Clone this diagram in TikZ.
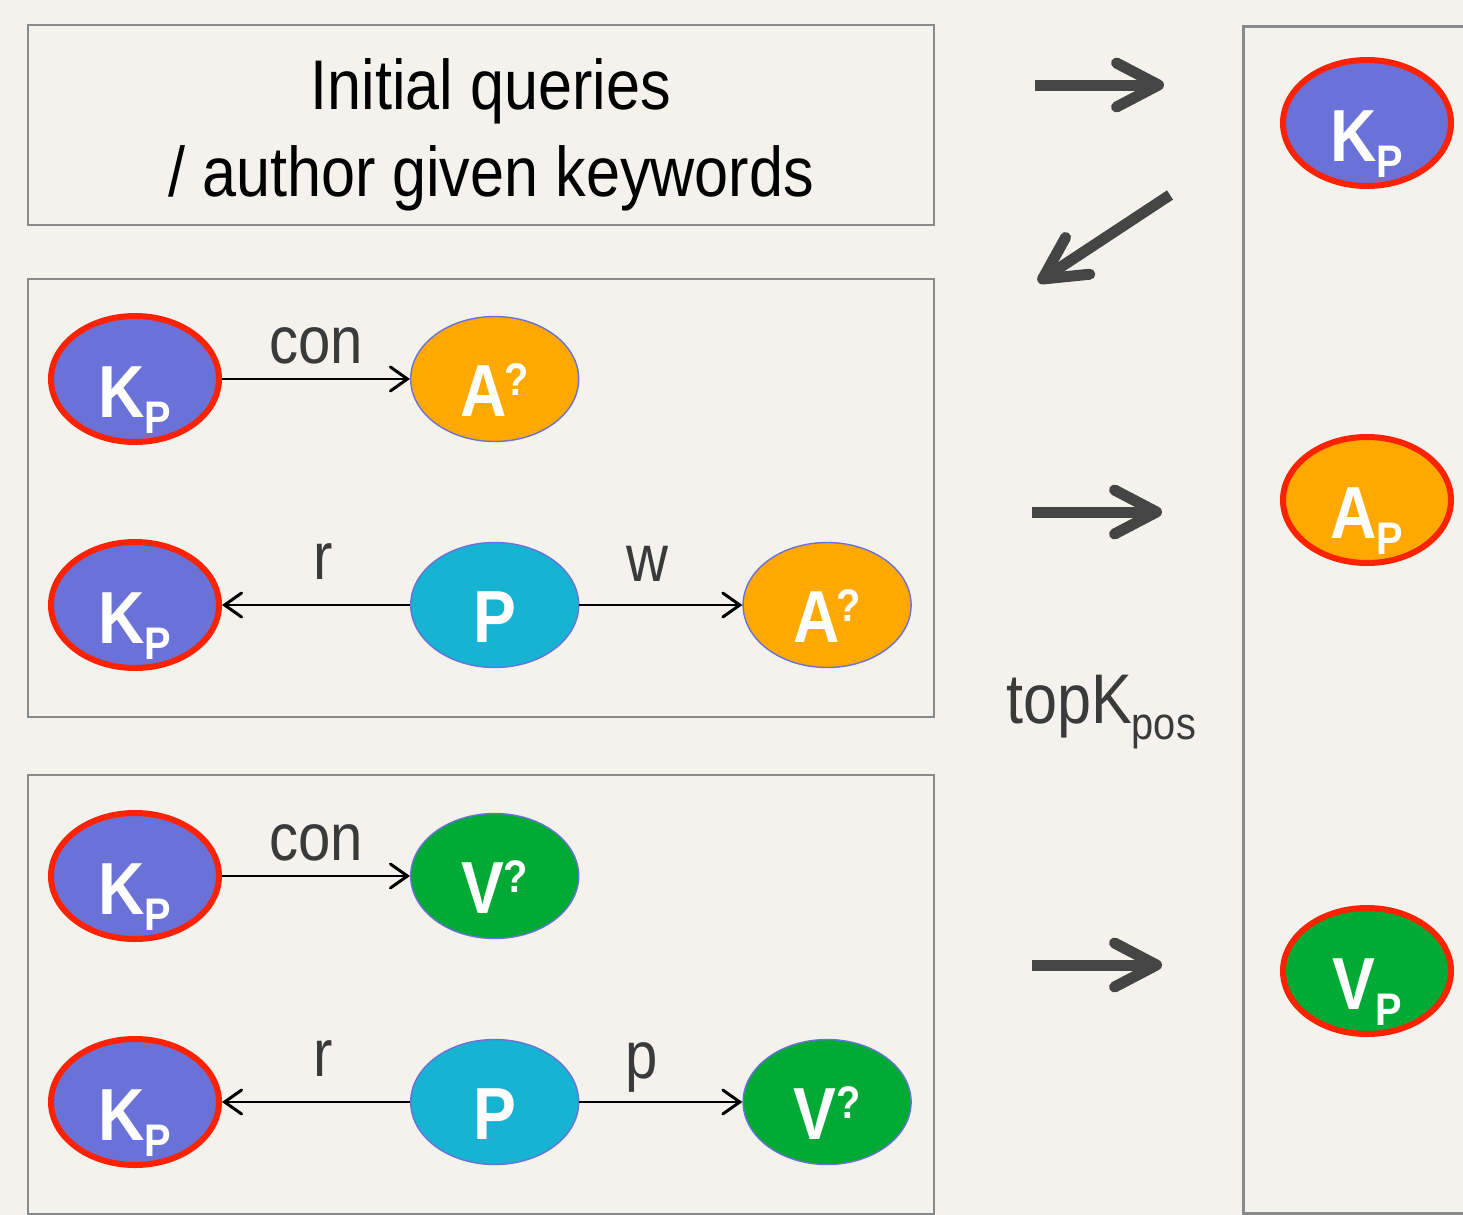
\documentclass[tikz,border=0pt]{standalone}
\usepackage{fontspec}
\setmainfont[FakeStretch=0.87]{Liberation Sans}
\usetikzlibrary{positioning}
\usetikzlibrary{shapes.geometric}
\usetikzlibrary{arrows.meta}

\definecolor{paper}{HTML}{F4F2EC}
\definecolor{frameg}{HTML}{8A8A8A}
\definecolor{kblue}{HTML}{6A72D8}
\definecolor{hitred}{HTML}{FF2200}
\definecolor{aorange}{HTML}{FFA800}
\definecolor{pteal}{HTML}{16B3D3}
\definecolor{vgreen}{HTML}{00AA35}
\definecolor{rimblue}{HTML}{6A72D8}
\definecolor{inkg}{HTML}{3A3A3A}
\definecolor{bigarr}{HTML}{454545}

\newcommand{\lowsub}[1]{\raisebox{-0.16cm}{\fontsize{13}{13}\selectfont #1}}
\newcommand{\upq}[1][0cm]{\hspace{#1}\raisebox{0.21cm}{\fontsize{13}{13}\selectfont ?}}

\begin{document}
\begin{tikzpicture}[
    hit/.style = {shape = ellipse, draw = hitred, line width = 0.06cm, minimum width = 1.68cm, minimum height = 1.26cm, inner sep = 0cm, text = white, text height = 0.76cm, text depth = 0cm, font = \fontsize{21}{21}\selectfont\bfseries},
    open/.style = {shape = ellipse, draw = rimblue, thin, minimum width = 1.68cm, minimum height = 1.25cm, inner sep = 0cm, text = white, text height = 0.74cm, text depth = 0cm, font = \fontsize{21}{21}\selectfont\bfseries},
    frame/.style = {draw = frameg, line width = 0.02cm},
    rel/.style = {text = inkg, font = \fontsize{19}{19}\selectfont, text depth = 0cm, inner sep = 0cm},
    link/.style = {-{Straight Barb[length = 0.17cm, width = 0.24cm, line width = 0.03cm, line cap = round]}, line width = 0.02cm},
    flow/.style = {-{Straight Barb[length = 0.42cm, width = 0.44cm, line cap = round, line join = round]}, draw = bigarr, line width = 0.11cm},
    ]
    % page
    \fill[paper] (0,0) rectangle (14.63,-12.15);
    \useasboundingbox (0,0) rectangle (14.63,-12.15);

    % left frames
    \draw[frame] (0.28,-0.25) rectangle (9.34,-2.25);
    \node[align = center, font = \fontsize{20}{24.7}\selectfont] (query) at (4.91,-1.35) {Initial queries\\/ author given keywords};
    \draw[frame] (0.28,-2.79) rectangle (9.34,-7.17);
    \draw[frame] (0.28,-7.75) rectangle (9.34,-12.14);
    \draw[frame, line width = 0.03cm] (15.2,-0.26) -| (12.43,-12.13) -- (15.2,-12.13);

    % author patterns
    \node[hit, fill = kblue] (k1) at (1.35,-3.79) {K\lowsub{P}};
    \node[open, fill = aorange] (a1) [right = 1.88cm of k1] {A\upq[-0.03cm]};
    \node[hit, fill = kblue] (k2) at (1.35,-6.05) {K\lowsub{P}};
    \node[open, fill = pteal] (p1) [right = 1.88cm of k2] {P};
    \node[open, fill = aorange] (a2) [right = 1.63cm of p1] {A\upq[-0.03cm]};

    \path[link] (k1) edge node[rel, above = 0.15cm] {con} (a1);
    \path[link] (p1) edge node[rel, pos = 0.46, above = 0.25cm] {r} (k2);
    \path[link] (p1) edge node[rel, pos = 0.42, above = 0.23cm] {w} (a2);

    % venue patterns
    \node[hit, fill = kblue] (k3) at (1.35,-8.76) {K\lowsub{P}};
    \node[open, fill = vgreen] (v1) [right = 1.88cm of k3] {V\upq};
    \node[hit, fill = kblue] (k4) at (1.35,-11.02) {K\lowsub{P}};
    \node[open, fill = pteal] (p2) [right = 1.88cm of k4] {P};
    \node[open, fill = vgreen] (v2) [right = 1.63cm of p2] {V\upq};

    \path[link] (k3) edge node[rel, above = 0.15cm] {con} (v1);
    \path[link] (p2) edge node[rel, pos = 0.46, above = 0.25cm] {r} (k4);
    \path[link] (p2) edge node[rel, pos = 0.38, above = 0.23cm] {p} (v2);

    % positives
    \node[hit, fill = kblue] (kpos) at (13.67,-1.23) {K\lowsub{P}};
    \node[hit, fill = aorange] (apos) at (13.67,-5.00) {A\lowsub{P}};
    \node[hit, fill = vgreen] (vpos) at (13.67,-9.71) {V\lowsub{P}};

    % flow arrows
    \coordinate (f1a) at (10.35,-0.85);
    \coordinate (f1b) at (11.64,-0.85);
    \coordinate (f2a) at (11.70,-1.95);
    \coordinate (f2b) at (10.38,-2.82);
    \coordinate (f3a) at (10.32,-5.12);
    \coordinate (f3b) at (11.62,-5.12);
    \coordinate (f4a) at (10.32,-9.65);
    \coordinate (f4b) at (11.62,-9.65);
    \draw[flow] (f1a) -- (f1b);
    \draw[flow] (f2a) -- (f2b);
    \draw[flow] (f3a) -- (f3b);
    \draw[flow] (f4a) -- (f4b);

    \node[text = inkg, font = \fontsize{20}{20}\selectfont] (topk) at (11.01,-7.12) {topK\lowsub{pos}};
\end{tikzpicture}
\end{document}
